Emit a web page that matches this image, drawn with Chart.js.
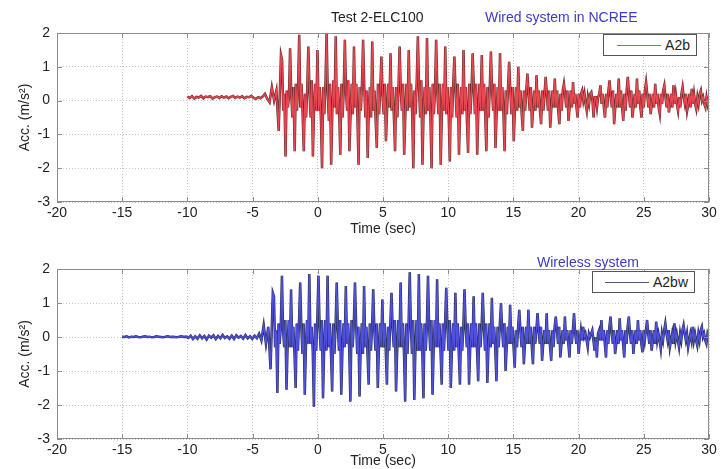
<!DOCTYPE html>
<html lang="en">
  <head>
    <meta charset="UTF-8" />
    <title>Test 2-ELC100</title>
    <style>
      * {
        margin: 0;
        padding: 0;
        box-sizing: border-box;
      }
      body {
        width: 728px;
        height: 469px;
        position: relative;
        overflow: hidden;
        background: #fff;
        font-family: "Liberation Sans", Arial, sans-serif;
      }
      .panel {
        position: absolute;
        left: 0;
        width: 728px;
      }
      .panel canvas {
        display: block;
      }
      .caption {
        position: absolute;
        font-size: 14px;
        white-space: nowrap;
        color: #222;
      }
      .caption.blue {
        color: #3b3bc8;
      }
      .legend {
        position: absolute;
        height: 22px;
        background: #fff;
        border: 1px solid #555;
        display: flex;
        align-items: center;
        justify-content: flex-end;
        padding-right: 6px;
        font-size: 14px;
        color: #222;
      }
      .legend i {
        display: inline-block;
        width: 44px;
        border-top: 1px solid;
        margin-right: 4px;
      }
    </style>
    <script src="https://cdn.jsdelivr.net/npm/chart.js"></script>
  </head>
  <body>
    <div class="panel" style="top: 0">
      <canvas id="wiredChart" width="728" height="235"></canvas>
    </div>
    <div class="panel" style="top: 235px">
      <canvas id="wirelessChart" width="728" height="234"></canvas>
    </div>

    <span class="caption" style="left: 331px; top: 9px">Test 2-ELC100</span>
    <span class="caption blue" style="left: 485px; top: 9px">Wired system in NCREE</span>
    <span class="caption blue" style="left: 537px; top: 254px">Wireless system</span>

    <div class="legend" style="left: 603px; top: 34px; width: 94px">
      <i style="border-color: #d9555b"></i>A2b
    </div>
    <div class="legend" style="left: 592px; top: 271px; width: 103px">
      <i style="border-color: #55557a"></i>A2bw
    </div>

    <script>
      // pre-event part read every 0.175 s, strong motion every 0.0875 s
      const quietStep = 0.175;
      const mainStep = 0.0875;

      const wiredQuietStart = -10;
      const wiredMainStart = -2.825;
      const wirelessQuietStart = -15;
      const wirelessMainStart = -3.45;

      const xTicks = [-20, -15, -10, -5, 0, 5, 10, 15, 20, 25, 30];
      const yTicks = [-3, -2, -1, 0, 1, 2];

      // A2b, wired system (m/s2)
      const wiredQuiet = [
        0.12, 0.08, 0.13, 0.06, 0.11, 0.09, 0.14, 0.07, 0.12, 0.10, 0.13, 0.06, 0.10, 0.12, 0.08, 0.13, 0.09,
        0.12, 0.07, 0.11, 0.14, 0.08, 0.12, 0.09, 0.13, 0.07, 0.11, 0.10, 0.14, 0.08, 0.05, 0.10, 0.07, 0.12,
        0.2, 0.05, -0.05, 0.4, 0.0, 0.3, -0.9,
      ];
      const wiredMain = [
        1.35, 1.2, -0.3, 0.2, -1.65, 0.3, -0.2, 0.1,
        1.55, 0.2, -0.5, 0.4, -1.5, 0.5, -0.3, 0.4,
        1.95, -0.2, 0.5, -0.4, -1.5, 0.2, -0.5, 0.3,
        1.6, 0.3, -0.5, 0.6, -1.65, -0.2, 0.5, -0.3,
        1.5, -0.3, 0.4, -0.5, -2.0, 0.4, -0.4, 0.5,
        2.0, 0.2, -0.6, 0.5, -1.9, -0.3, 0.6, -0.2,
        1.9, -0.4, 0.4, -0.3, -1.6, 0.5, -0.5, 0.3,
        1.8, 0.3, -0.3, 0.6, -1.5, -0.4, 0.5, -0.4,
        1.6, -0.2, 0.5, -0.5, -1.9, 0.4, -0.3, 0.5,
        1.8, 0.4, -0.5, 0.3, -1.7, -0.2, 0.4, -0.5,
        1.75, -0.3, 0.3, -0.6, -1.4, 0.5, -0.4, 0.3,
        1.3, 0.2, -0.4, 0.5, -1.2, -0.3, 0.5, -0.2,
        1.4, -0.3, 0.4, -0.5, -1.5, 0.4, -0.5, 0.4,
        1.6, 0.3, -0.3, 0.5, -1.6, -0.4, 0.5, -0.3,
        1.5, -0.2, 0.5, -0.4, -2.0, 0.3, -0.4, 0.6,
        1.9, 0.4, -0.5, 0.6, -1.9, -0.3, 0.4, -0.4,
        1.85, -0.3, 0.4, -0.5, -2.0, 0.5, -0.4, 0.3,
        1.8, 0.3, -0.4, 0.5, -1.9, -0.4, 0.5, -0.3,
        1.6, -0.4, 0.4, -0.4, -1.8, 0.4, -0.5, 0.5,
        1.3, 0.3, -0.5, 0.5, -1.6, -0.3, 0.4, -0.4,
        1.5, -0.3, 0.4, -0.6, -1.55, 0.5, -0.4, 0.3,
        1.4, 0.4, -0.4, 0.5, -1.6, -0.3, 0.5, -0.3,
        1.35, -0.3, 0.5, -0.4, -1.5, 0.4, -0.5, 0.4,
        1.45, 0.3, -0.3, 0.5, -1.4, -0.4, 0.4, -0.3,
        1.4, -0.3, 0.4, -0.4, -1.5, 0.3, -0.4, 0.4,
        1.15, 0.3, -0.4, 0.4, -1.2, -0.3, 0.4, -0.3,
        1.0, -0.2, 0.3, -0.4, -0.9, 0.3, -0.3, 0.3,
        0.8, 0.2, -0.3, 0.4, -0.8, -0.2, 0.3, -0.3,
        0.75, -0.2, 0.3, -0.3, -0.7, 0.3, -0.3, 0.2,
        0.7, 0.2, -0.3, 0.3, -0.8, -0.2, 0.3, -0.2,
        0.65, -0.2, 0.3, -0.3, -0.7, 0.2, -0.3, 0.3,
        0.5, 0.2, -0.2, 0.3, -0.6, -0.2, 0.3, -0.2,
        0.55, -0.1, 0.2, -0.2, -0.5, 0.2, -0.2, 0.2,
        0.3, 0.0, 0.2, -0.1, -0.3, 0.1, -0.1, 0.2,
        0.25, 0.0, -0.5, 0.1, 0.1, -0.2, 0.1, 0.2,
        0.45, -0.1, 0.2, -0.2, -0.5, 0.2, -0.2, 0.3,
        0.6, 0.1, -0.2, 0.3, -0.7, -0.2, 0.2, -0.2,
        0.65, -0.2, 0.3, -0.2, -0.6, 0.2, -0.3, 0.3,
        0.7, 0.2, -0.2, 0.3, -0.5, -0.2, 0.2, -0.2,
        0.65, -0.1, 0.3, -0.2, -0.5, 0.2, -0.2, 0.3,
        0.55, 0.2, -0.2, 0.2, -0.4, -0.1, 0.2, -0.2,
        0.5, -0.1, 0.2, -0.2, -0.4, 0.2, -0.1, 0.3,
        0.45, 0.1, -0.2, 0.2, -0.35, -0.1, 0.2, -0.2,
        0.45, -0.1, 0.2, -0.1, -0.3, 0.1, -0.2, 0.2,
        0.4, 0.1, -0.1, 0.2, -0.3, -0.1, 0.2, -0.2,
        0.35, -0.1, 0.2, -0.1, -0.25, 0.1, -0.1, 0.2,
        0.3, 0.0, 0.1, -0.1, -0.2, 0.1, -0.1, 0.1,
      ];

      // A2bw, wireless system (m/s2)
      const wirelessQuiet = [
        0.01, 0.0, 0.02, -0.01, 0.01, 0.0, 0.02, 0.0, -0.01, 0.01, 0.02, 0.0, 0.01, -0.01, 0.0, 0.02, 0.01,
        0.0, -0.01, 0.01, 0.02, 0.0, 0.01, 0.0, -0.01, 0.01, 0.02, 0.0, 0.01,
        -0.03, 0.04, -0.06, 0.02, -0.05, 0.05, -0.04, 0.03, -0.07, 0.04, -0.02, 0.05, -0.06, 0.03, -0.04, 0.06,
        -0.03, 0.02, -0.05, 0.04, -0.06, 0.05, -0.02, 0.03, -0.05, 0.06, -0.04, 0.02, -0.06, 0.04, -0.03,
        0.1, -0.1, 0.35, -0.2, 0.3, -0.95,
      ];
      const wirelessMain = [
        1.3, 1.2, -0.3, 0.2, -1.65, 0.4, -0.2, 0.3,
        1.8, 0.2, -0.3, 0.5, -1.55, -0.2, 0.5, -0.3,
        1.4, -0.3, 0.3, -0.5, -1.5, 0.4, -0.4, 0.5,
        1.6, 0.3, -0.5, 0.4, -1.7, -0.3, 0.5, -0.2,
        1.85, -0.2, 0.3, -0.4, -2.05, 0.4, -0.4, 0.5,
        1.8, 0.3, -0.4, 0.5, -1.8, -0.3, 0.5, -0.4,
        1.8, -0.3, 0.4, -0.5, -1.6, 0.4, -0.5, 0.3,
        1.6, 0.3, -0.4, 0.5, -1.7, -0.4, 0.4, -0.3,
        1.5, -0.2, 0.4, -0.4, -1.9, 0.5, -0.3, 0.4,
        1.6, 0.4, -0.5, 0.3, -1.75, -0.3, 0.4, -0.5,
        1.5, -0.3, 0.3, -0.5, -1.4, 0.4, -0.4, 0.3,
        1.4, 0.2, -0.4, 0.4, -1.5, -0.3, 0.4, -0.3,
        1.1, -0.3, 0.4, -0.4, -1.4, 0.3, -0.4, 0.4,
        1.3, 0.3, -0.3, 0.5, -1.6, -0.4, 0.5, -0.3,
        1.6, -0.3, 0.4, -0.5, -1.9, 0.4, -0.5, 0.4,
        1.9, 0.3, -0.5, 0.5, -1.85, -0.3, 0.5, -0.4,
        1.85, -0.4, 0.4, -0.4, -1.8, 0.4, -0.4, 0.3,
        1.8, 0.3, -0.4, 0.5, -1.7, -0.3, 0.5, -0.3,
        1.7, -0.3, 0.4, -0.4, -1.4, 0.4, -0.4, 0.4,
        1.45, 0.3, -0.4, 0.5, -1.5, -0.3, 0.4, -0.4,
        1.3, -0.3, 0.4, -0.5, -1.4, 0.3, -0.4, 0.3,
        1.4, 0.3, -0.3, 0.4, -1.4, -0.3, 0.4, -0.3,
        1.2, -0.3, 0.4, -0.4, -1.3, 0.4, -0.3, 0.3,
        1.3, 0.3, -0.4, 0.4, -1.35, -0.3, 0.4, -0.3,
        1.15, -0.2, 0.3, -0.4, -1.3, 0.3, -0.3, 0.4,
        1.0, 0.2, -0.3, 0.4, -1.0, -0.3, 0.3, -0.2,
        0.95, -0.2, 0.3, -0.3, -0.9, 0.2, -0.3, 0.3,
        0.8, 0.2, -0.3, 0.3, -0.8, -0.2, 0.3, -0.2,
        0.8, -0.2, 0.3, -0.3, -0.8, 0.3, -0.2, 0.2,
        0.7, 0.2, -0.2, 0.3, -0.7, -0.2, 0.2, -0.2,
        0.7, -0.2, 0.2, -0.3, -0.7, 0.2, -0.3, 0.3,
        0.6, 0.2, -0.2, 0.3, -0.6, -0.2, 0.2, -0.2,
        0.6, -0.1, 0.2, -0.2, -0.6, 0.2, -0.2, 0.2,
        0.7, 0.1, -0.2, 0.2, -0.5, -0.1, 0.2, -0.1,
        0.3, 0.0, 0.1, -0.1, -0.3, 0.1, 0.0, 0.1,
        0.2, -0.1, -0.4, 0.0, -0.6, 0.1, 0.2, -0.1,
        0.5, -0.1, 0.2, -0.2, -0.6, 0.2, -0.2, 0.3,
        0.6, 0.1, -0.2, 0.2, -0.5, -0.2, 0.2, -0.2,
        0.55, -0.1, 0.2, -0.2, -0.6, 0.2, -0.2, 0.3,
        0.6, 0.1, -0.2, 0.2, -0.5, -0.1, 0.2, -0.2,
        0.5, -0.1, 0.2, -0.2, -0.45, 0.2, -0.1, 0.2,
        0.5, 0.1, -0.2, 0.2, -0.4, -0.1, 0.2, -0.2,
        0.45, -0.1, 0.1, -0.1, -0.35, 0.1, -0.1, 0.2,
        0.4, 0.1, -0.1, 0.2, -0.3, -0.1, 0.1, -0.2,
        0.4, -0.1, 0.1, -0.1, -0.3, 0.1, -0.1, 0.2,
        0.35, 0.1, -0.1, 0.1, -0.3, -0.1, 0.1, -0.1,
        0.3, -0.1, 0.1, -0.1, -0.25, 0.1, -0.1, 0.2,
        0.3, 0.0, 0.1, -0.1, -0.2, 0.1, 0.0, 0.1,
      ];

      const fontFamily = '"Liberation Sans", Arial, sans-serif';
      const textColor = "#222";

      function toPoints(start, step, values) {
        return values.map((v, i) => ({ x: +(start + i * step).toFixed(4), y: v }));
      }

      // matlab style box with inward ticks
      const framePlugin = {
        id: "frame",
        afterDraw(chart) {
          const { ctx, chartArea: a, scales } = chart;
          ctx.save();
          ctx.strokeStyle = "#8c8c8c";
          ctx.lineWidth = 1;
          ctx.strokeRect(a.left + 0.5, a.top + 0.5, a.right - a.left - 1, a.bottom - a.top - 1);
          ctx.beginPath();
          xTicks.forEach(v => {
            const px = Math.round(scales.x.getPixelForValue(v)) + 0.5;
            ctx.moveTo(px, a.bottom);
            ctx.lineTo(px, a.bottom - 5);
            ctx.moveTo(px, a.top);
            ctx.lineTo(px, a.top + 5);
          });
          yTicks.forEach(v => {
            const py = Math.round(scales.y.getPixelForValue(v)) + 0.5;
            ctx.moveTo(a.left, py);
            ctx.lineTo(a.left + 5, py);
            ctx.moveTo(a.right, py);
            ctx.lineTo(a.right - 5, py);
          });
          ctx.stroke();
          ctx.restore();
        },
      };

      function makeChart(id, opts) {
        const points = toPoints(opts.quietStart, quietStep, opts.quiet)
          .concat(toPoints(opts.mainStart, mainStep, opts.main));
        return new Chart(document.getElementById(id), {
          type: "line",
          data: {
            datasets: [
              // index 0 is painted last, so the coloured trace sits on top
              {
                label: opts.label,
                data: points,
                borderColor: opts.color,
                borderWidth: 1.3,
                pointRadius: 0,
              },
              {
                label: opts.label + " edge",
                data: points,
                borderColor: opts.edge,
                borderWidth: 2.5,
                pointRadius: 0,
              },
            ],
          },
          options: {
            responsive: false,
            animation: false,
            devicePixelRatio: 1,
            layout: { padding: { top: opts.top, right: 19, left: 0, bottom: 0 } },
            plugins: { legend: { display: false }, tooltip: { enabled: false } },
            elements: { line: { tension: 0 } },
            scales: {
              x: {
                type: "linear",
                min: -20,
                max: 30,
                afterFit: s => { s.height = opts.xHeight; },
                afterBuildTicks: s => { s.ticks = xTicks.map(v => ({ value: v })); },
                ticks: { padding: 3, color: textColor, font: { size: 14, family: fontFamily }, maxRotation: 0, autoSkip: false },
                grid: { color: "#c4c4c4", drawTicks: false },
                border: { display: false, dash: [1, 2] },
                title: { display: true, text: "Time (sec)", color: textColor, font: { size: 14, family: fontFamily }, padding: { top: 0, bottom: opts.titleGap } },
              },
              y: {
                min: -3,
                max: 2,
                afterFit: s => { s.width = 57; },
                afterBuildTicks: s => { s.ticks = yTicks.map(v => ({ value: v })); },
                ticks: { padding: 7, color: textColor, font: { size: 14, family: fontFamily } },
                grid: { color: "#c4c4c4", drawTicks: false },
                border: { display: false, dash: [1, 2] },
                title: { display: true, text: "Acc. (m/s²)", color: textColor, font: { size: 14, family: fontFamily }, padding: { top: 17, bottom: 0 } },
              },
            },
          },
          plugins: [framePlugin],
        });
      }

      makeChart("wiredChart", {
        label: "A2b",
        quietStart: wiredQuietStart,
        quiet: wiredQuiet,
        mainStart: wiredMainStart,
        main: wiredMain,
        color: "#ea4850",
        edge: "#6a2a2e",
        top: 33,
        xHeight: 33,
        titleGap: -3,
      });

      makeChart("wirelessChart", {
        label: "A2bw",
        quietStart: wirelessQuietStart,
        quiet: wirelessQuiet,
        mainStart: wirelessMainStart,
        main: wirelessMain,
        color: "#4f52dc",
        edge: "#2c2d58",
        top: 34,
        xHeight: 30,
        titleGap: -1,
      });
    </script>
  </body>
</html>
